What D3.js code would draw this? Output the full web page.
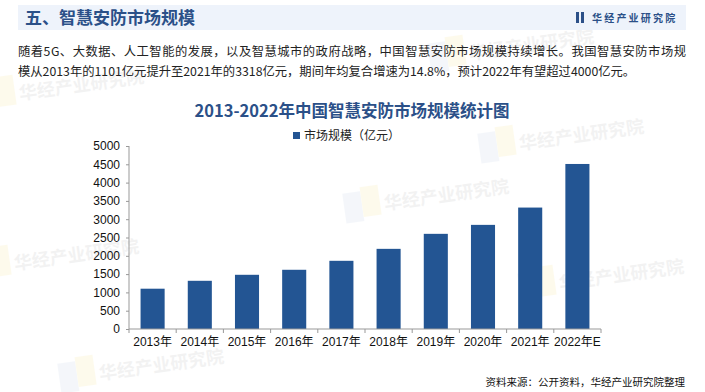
<!DOCTYPE html>
<html>
<head>
<meta charset="utf-8">
<script src="https://cdn.jsdelivr.net/npm/d3@7/dist/d3.min.js"></script>
<style>
  body { margin: 0; background: #fff; }
  text { font-family: "Liberation Sans", "Noto Sans CJK SC", sans-serif; }
  .cn { font-family: "Noto Sans CJK SC", sans-serif; }
</style>
</head>
<body>
<div id="box1"></div>
<script>
var years = ["2013年", "2014年", "2015年", "2016年", "2017年", "2018年", "2019年", "2020年", "2021年", "2022年E"];
var marketSize = [1101, 1317, 1481, 1618, 1863, 2190, 2600, 2845, 3318, 4509];
var yTicks = [0, 500, 1000, 1500, 2000, 2500, 3000, 3500, 4000, 4500, 5000];
var seriesName = "市场规模（亿元）";

document.addEventListener("DOMContentLoaded", function(e) {
    chart1();
});

function chart1(){
    var width = 705;
    var height = 392;
    var blue = "#235593";
    var svg = d3.select("#box1")
        .append("svg")
        .attr("width", width)
        .attr("height", height);

    // faint watermarks
    var marks = [[20, 100], [385, 210], [520, 150], [560, 290], [100, 380], [470, 60], [15, 270]];
    marks.forEach(function(m){
        var g = svg.append("g").attr("transform", "translate(" + m[0] + "," + m[1] + ") rotate(-8)").attr("opacity", 0.07);
        g.append("rect").attr("x", -40).attr("y", -22).attr("width", 18).attr("height", 30).attr("fill", "#6d93c9");
        g.append("rect").attr("x", -22).attr("y", -26).attr("width", 18).attr("height", 30).attr("fill", "#f0c400");
        g.append("text").attr("class", "cn").attr("x", 0).attr("y", 0).attr("font-size", 18)
            .attr("font-weight", "bold").attr("fill", "#555").text("华经产业研究院");
    });

    // header band
    svg.append("rect").attr("x", 18).attr("y", 5).attr("width", 668).attr("height", 25).attr("fill", "#eef3fb");
    svg.append("text").attr("class", "cn").attr("x", 25).attr("y", 24)
        .attr("font-size", 17).attr("font-weight", "bold").attr("fill", "#2b5088")
        .text("五、智慧安防市场规模");
    svg.append("rect").attr("x", 576).attr("y", 12).attr("width", 3).attr("height", 11).attr("fill", "#2b5088");
    svg.append("rect").attr("x", 581).attr("y", 12).attr("width", 3).attr("height", 11).attr("fill", "#2b5088");
    svg.append("text").attr("class", "cn").attr("x", 592).attr("y", 22)
        .attr("font-size", 10).attr("font-weight", "bold").attr("fill", "#2b5088")
        .attr("letter-spacing", 2.2).text("华经产业研究院");

    // paragraph
    svg.append("text").attr("class", "cn").attr("x", 18).attr("y", 56)
        .attr("font-size", 12.3).attr("fill", "#222")
        .attr("textLength", 668).attr("lengthAdjust", "spacing")
        .text("随着5G、大数据、人工智能的发展，以及智慧城市的政府战略，中国智慧安防市场规模持续增长。我国智慧安防市场规");
    svg.append("text").attr("class", "cn").attr("x", 18).attr("y", 76)
        .attr("font-size", 12.3).attr("fill", "#222")
        .text("模从2013年的1101亿元提升至2021年的3318亿元，期间年均复合增速为14.8%，预计2022年有望超过4000亿元。");

    // chart title
    svg.append("text").attr("class", "cn").attr("x", 352).attr("y", 117)
        .attr("text-anchor", "middle").attr("font-size", 16.5).attr("font-weight", "bold")
        .attr("fill", "#2b5088").text("2013-2022年中国智慧安防市场规模统计图");

    // legend
    svg.append("rect").attr("x", 293).attr("y", 132).attr("width", 7).attr("height", 7).attr("fill", blue);
    svg.append("text").attr("class", "cn").attr("x", 304).attr("y", 140)
        .attr("font-size", 12).attr("fill", "#222").text(seriesName);

    var x = d3.scaleBand().domain(years).range([129, 601]).paddingInner(0.49).paddingOuter(0.245);
    var y = d3.scaleLinear().domain([0, 5000]).range([329, 146]);

    svg.selectAll(".bar").data(marketSize).enter().append("rect")
        .attr("class", "bar")
        .attr("x", function(d, i){ return x(years[i]); })
        .attr("y", function(d){ return y(d); })
        .attr("width", x.bandwidth())
        .attr("height", function(d){ return y(0) - y(d); })
        .attr("fill", blue);

    var yAxis = svg.append("g").attr("transform", "translate(129,0)")
        .call(d3.axisLeft(y).tickValues(yTicks).tickFormat(d3.format("d")).tickSize(3).tickPadding(6));
    yAxis.selectAll("text").attr("font-size", 12).attr("fill", "#111");
    yAxis.selectAll("line, path").attr("stroke", "#999");
    yAxis.select(".domain").attr("d", "M0,146V329");

    var xAxis = svg.append("g").attr("transform", "translate(0,329)")
        .call(d3.axisBottom(x).tickSize(0).tickPadding(8));
    xAxis.selectAll("text").attr("font-size", 12).attr("fill", "#111");
    xAxis.select(".domain").attr("stroke", "#999").attr("d", "M129,0H601");
    var step = x.step();
    for (var i = 0; i <= years.length; i ++){
        xAxis.append("line")
            .attr("x1", 129 + i * step).attr("x2", 129 + i * step)
            .attr("y1", 0).attr("y2", 4).attr("stroke", "#999");
    }

    // source
    svg.append("text").attr("class", "cn").attr("x", 685).attr("y", 386)
        .attr("text-anchor", "end").attr("font-size", 10.5).attr("fill", "#111")
        .text("资料来源：公开资料，华经产业研究院整理");
}
</script>
</body>
</html>
